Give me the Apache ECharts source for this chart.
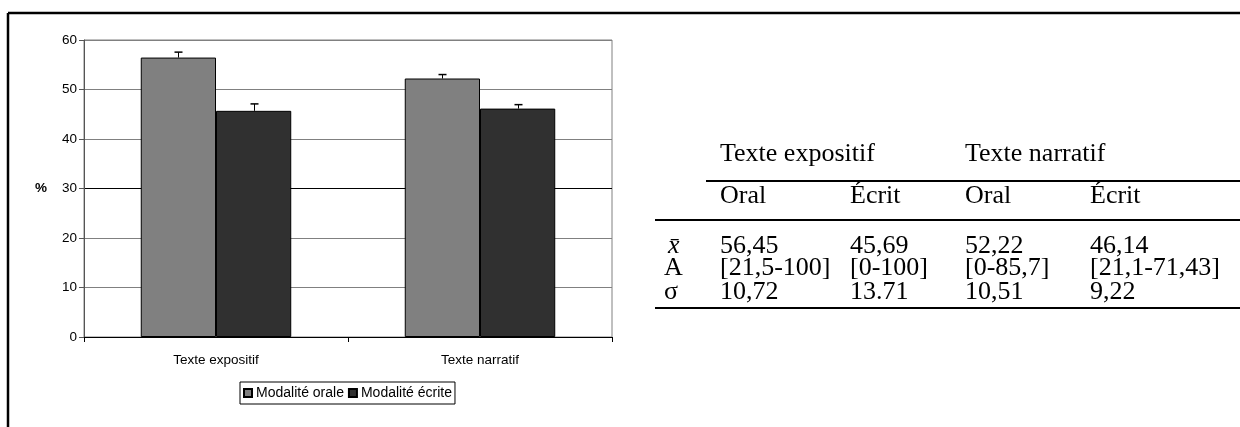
<!DOCTYPE html>
<html>
<head>
<meta charset="utf-8">
<script src="https://cdn.jsdelivr.net/npm/echarts@6/dist/echarts.min.js"></script>
<style>
  html, body { margin: 0; padding: 0; background: #fff; }
  #chart { width: 1240px; height: 427px; }
</style>
</head>
<body>
<div id="chart"></div>
<script>
// ---- data ----
const categories = ['Texte expositif', 'Texte narratif'];
const seriesNames = ['Modalité orale', 'Modalité écrite'];
const oralMeans = [56.45, 52.22];
const ecriteMeans = [45.69, 46.14];
const oralErr = [1.1, 0.8];
const ecriteErr = [1.4, 0.8];
const yMin = 0, yMax = 60, yInterval = 10;
const yAxisName = '%';

// table data
const tableGroups = ['Texte expositif', 'Texte narratif'];
const tableSubHeaders = ['Oral', 'Écrit', 'Oral', 'Écrit'];
const rowLabels = ['x\u0304', 'A', 'σ'];
const rowMean = ['56,45', '45,69', '52,22', '46,14'];
const rowRange = ['[21,5-100]', '[0-100]', '[0-85,7]', '[21,1-71,43]'];
const rowSigma = ['10,72', '13.71', '10,51', '9,22'];

// ---- layout (not data) ----
const sansFont = '"Liberation Sans", Arial, sans-serif';
const serifFont = '"Liberation Serif", "Times New Roman", serif';
const tableFontSize = 26;
const colX = [720, 850, 965, 1090];
const labelX = 664;
const rowY = [246, 268, 292];
const header1Y = 154, header2Y = 196;
const lineStartWide = 655, lineStartNarrow = 706, lineEnd = 1240;
const line1Y = 181, line2Y = 220, line3Y = 308;
const barCatGap = 0.43;

const tableRows = [rowMean, rowRange, rowSigma];
const graphics = [];
// outer frame
graphics.push({ type: 'line', shape: { x1: 8, y1: 13, x2: 1240, y2: 13 }, style: { stroke: '#000', lineWidth: 2.5 } });
graphics.push({ type: 'line', shape: { x1: 8, y1: 13, x2: 8, y2: 427 }, style: { stroke: '#000', lineWidth: 2.5 } });
// table lines
graphics.push({ type: 'line', shape: { x1: lineStartNarrow, y1: line1Y, x2: lineEnd, y2: line1Y }, style: { stroke: '#000', lineWidth: 2 } });
graphics.push({ type: 'line', shape: { x1: lineStartWide, y1: line2Y, x2: lineEnd, y2: line2Y }, style: { stroke: '#000', lineWidth: 2 } });
graphics.push({ type: 'line', shape: { x1: lineStartWide, y1: line3Y, x2: lineEnd, y2: line3Y }, style: { stroke: '#000', lineWidth: 2 } });
function txt(t, x, y, italic) {
  return { type: 'text', x: x, y: y, style: { text: t, font: (italic ? 'italic ' : '') + tableFontSize + 'px ' + serifFont, fill: '#000', verticalAlign: 'middle', align: 'left' } };
}
tableGroups.forEach((g, i) => graphics.push(txt(g, colX[i * 2], header1Y)));
tableSubHeaders.forEach((h, i) => graphics.push(txt(h, colX[i], header2Y)));
rowLabels.forEach((l, r) => {
  graphics.push(txt(l, labelX + (r === 0 ? 4 : 0), rowY[r], r === 0));
  tableRows[r].forEach((v, c) => graphics.push(txt(v, colX[c], rowY[r])));
});

const errData = [];
oralMeans.forEach((m, i) => errData.push([i, m, oralErr[i], 0]));
ecriteMeans.forEach((m, i) => errData.push([i, m, ecriteErr[i], 1]));

const chart = echarts.init(document.getElementById('chart'), null, { renderer: 'canvas' });
chart.setOption({
  animation: false,
  backgroundColor: '#fff',
  textStyle: { fontFamily: sansFont },
  grid: { left: 84, right: 628, top: 40, bottom: 90, show: true, borderColor: '#808080', borderWidth: 1, backgroundColor: 'transparent' },
  legend: {
    data: seriesNames,
    left: 240, top: 382,
    orient: 'horizontal',
    itemWidth: 8, itemHeight: 8, itemGap: 4,
    padding: [4, 3, 4, 3],
    borderColor: '#000', borderWidth: 1,
    icon: 'rect',
    textStyle: { fontSize: 14, color: '#000', fontFamily: sansFont, padding: [0, 0, 0, -1] }
  },
  xAxis: {
    type: 'category',
    data: categories,
    axisLine: { lineStyle: { color: '#000', width: 1 } },
    axisTick: { show: true, length: 5, lineStyle: { color: '#000' } },
    axisLabel: { fontSize: 13.5, color: '#000', margin: 16, fontFamily: sansFont },
    splitLine: { show: false }
  },
  yAxis: {
    type: 'value',
    min: yMin, max: yMax, interval: yInterval,
    name: yAxisName,
    nameLocation: 'middle',
    nameRotate: 0,
    nameGap: 37,
    nameTextStyle: { fontSize: 13.5, color: '#000', fontWeight: 'bold', fontFamily: sansFont },
    axisLine: { show: true, lineStyle: { color: '#555', width: 1 } },
    axisTick: { show: true, length: 5, lineStyle: { color: '#555' } },
    axisLabel: { fontSize: 13.5, color: '#000', margin: 7, fontFamily: sansFont },
    splitLine: { show: true, lineStyle: { color: ['#808080', '#808080', '#808080', '#000', '#808080', '#808080', '#808080'], width: 1 } }
  },
  series: [
    {
      name: seriesNames[0], type: 'bar', data: oralMeans,
      barGap: '0%', barCategoryGap: (barCatGap * 100) + '%',
      itemStyle: { color: '#808080', borderColor: '#000', borderWidth: 1 }
    },
    {
      name: seriesNames[1], type: 'bar', data: ecriteMeans,
      barGap: '0%', barCategoryGap: (barCatGap * 100) + '%',
      itemStyle: { color: '#303030', borderColor: '#000', borderWidth: 1 }
    },
    {
      type: 'custom', name: 'err', z: 5, silent: true,
      data: errData,
      renderItem: function (params, api) {
        const cat = api.value(0), mean = api.value(1), err = api.value(2), side = api.value(3);
        const band = api.size([1, 0])[0];
        const bw = band * (1 - barCatGap) / 2;
        const base = api.coord([cat, mean]);
        const top = api.coord([cat, mean + err]);
        const x = Math.round(base[0] + (side === 0 ? -bw / 2 : bw / 2)) + 0.5;
        return {
          type: 'group',
          children: [
            { type: 'line', shape: { x1: x, y1: base[1], x2: x, y2: top[1] }, style: { stroke: '#000', lineWidth: 1 } },
            { type: 'line', shape: { x1: x - 4, y1: top[1], x2: x + 4, y2: top[1] }, style: { stroke: '#000', lineWidth: 1.5 } }
          ]
        };
      }
    }
  ],
  graphic: graphics
});
</script>
</body>
</html>
